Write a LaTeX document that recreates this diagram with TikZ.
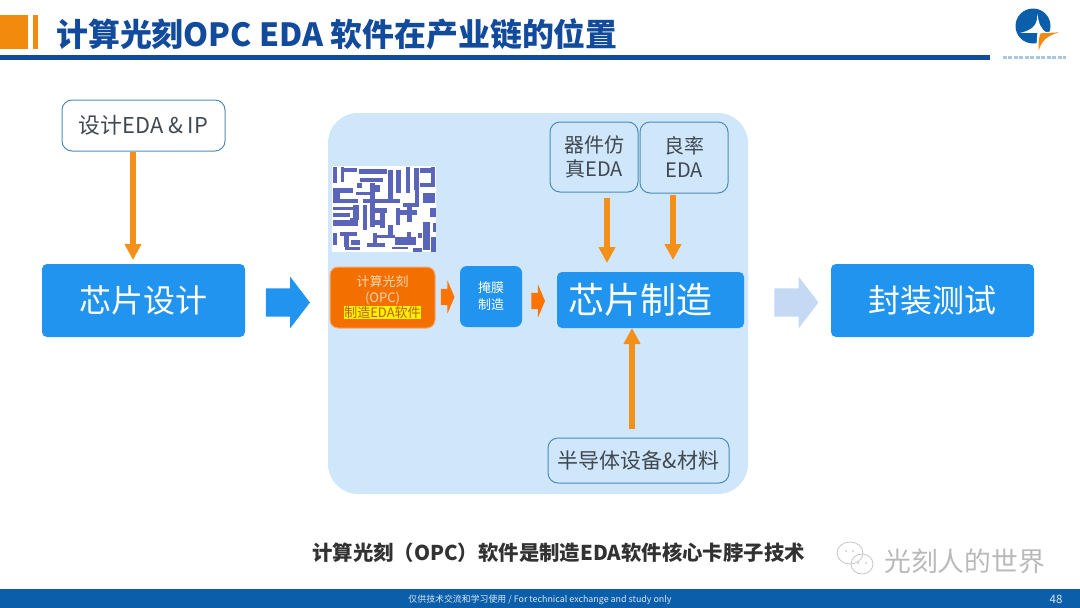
\documentclass[tikz,border=0pt]{standalone}
\usepackage{fontspec}
\setmainfont{Noto Sans CJK SC}
\usetikzlibrary{arrows.meta,shapes.arrows}
\definecolor{navy}{HTML}{124B9B}
\definecolor{tabor}{HTML}{F28A0E}
\definecolor{flowor}{HTML}{F39019}
\definecolor{boxblue}{HTML}{2094EE}
\definecolor{panel}{HTML}{CFE6FB}
\definecolor{edge}{HTML}{4F8CB4}
\definecolor{ink}{HTML}{404850}
\definecolor{mask}{HTML}{5A64B8}
\definecolor{foot}{HTML}{0B5EA9}
\tikzset{
  stage/.style={fill=boxblue,rounded corners=5pt,text=white,inner sep=0pt,align=center},
  tool/.style={draw=edge,line width=1pt,rounded corners=10pt,text=ink,inner sep=0pt,align=center,font=\fontsize{20}{24}\selectfont},
  flow/.style={draw=flowor,line width=5.5pt,-{Triangle[width=16pt,length=16pt]}},
  bigarrow/.style={shape=single arrow,inner xsep=0pt,inner ysep=14pt,minimum width=51pt,minimum height=44pt,single arrow head extend=11.5pt,single arrow tip angle=105,shape border rotate=0},
  smallarrow/.style={shape=single arrow,fill=#1,inner xsep=0pt,inner ysep=8pt,minimum width=33pt,minimum height=13.5pt,single arrow head extend=8.5pt,single arrow tip angle=134},
}
\begin{document}
\begin{tikzpicture}[x=1pt,y=-1pt]
\useasboundingbox (0,0) rectangle (1080,608);
% header
\fill[tabor] (0,15) rectangle (28,49);
\fill[tabor] (33,15) rectangle (38,49);
\fill[navy] (0,55) rectangle (990,60);
\node[anchor=west,inner sep=0pt,text=navy,font=\fontsize{31.9}{36}\selectfont\bfseries] (title) at (56,34) {计算光刻OPC EDA 软件在产业链的位置};
% logo
\fill[foot] (1033,26) circle (17.5);
\begin{scope}[shift={(960,0)},x=.3333pt,y=-.3333pt]
\fill[white] (232,40) .. controls (232,70) and (226,88) .. (180,99) -- (262,99) .. controls (242,88) and (236,70) .. (232,40) -- cycle;
\fill[white] (232,99) -- (300,92) -- (300,160) -- (228,160) -- cycle;
\fill[tabor] (297,97) -- (242,100) .. controls (236,112) and (235,130) .. (236,152) .. controls (244,125) and (258,108) .. (297,97) -- cycle;
\draw[line width=3.6pt,draw=foot!35!white,dash pattern=on 4pt off 1.5pt] (128,172) -- (318,172);
\end{scope}
% panel
\fill[panel,rounded corners=30pt] (328,113) rectangle (748,494);
% mask pattern
\fill[white] (332,166) rectangle (436,252);
\begin{scope}[shift={(320,150)},x=.3333pt,y=-.3333pt]
\foreach \a/\b/\c/\d in {
40/52/52/100, 62/52/72/95, 72/55/110/65, 118/58/200/72, 120/85/190/95, 205/60/220/150, 228/60/242/130,
258/52/270/130, 283/55/296/120, 300/55/345/68, 332/50/345/110, 300/100/345/112, 40/115/100/130, 40/130/60/150,
110/100/125/115, 108/125/150/135, 165/105/180/125, 40/148/115/158, 128/148/240/158, 150/100/165/230, 250/158/290/170,
285/120/298/170, 310/130/345/158, 330/175/348/200, 40/170/100/180, 100/165/118/210, 40/188/90/200, 40/210/115/228,
90/205/112/218, 155/175/200/190, 180/175/195/235, 155/210/195/225, 128/165/140/240, 228/175/240/225, 240/180/290/195,
262/165/275/215, 310/215/330/300, 340/220/348/245, 40/250/50/285, 60/245/112/258, 72/258/88/290, 92/270/120/285, 75/292/120/300,
142/278/195/290, 160/250/172/280, 172/255/225/265, 205/225/218/265, 225/262/288/285, 260/245/272/270, 215/290/265/298, 280/295/305/305, 332/260/348/305, 295/250/305/265}
  {\fill[mask] (\a,\b) rectangle (\c,\d);}
\end{scope}
% design side
\node[tool,minimum width=163pt,minimum height=51pt,font=\fontsize{21.8}{26}\selectfont] (designeda) at (143.5,125.5) {设计EDA \& IP};
\node[stage,minimum width=203pt,minimum height=73pt,font=\fontsize{32}{38}\selectfont] (chipdesign) at (143.5,300.5) {芯片设计};
\node[bigarrow,fill=boxblue] (arrowone) at (282.5,302.5) {};
% fab side
\node[fill={rgb,255:red,243;green,111;blue,0},draw={rgb,255:red,245;green,170;blue,110},line width=1pt,rounded corners=8pt,minimum width=105pt,minimum height=61pt,inner sep=0pt,align=center,text={rgb,255:red,250;green,215;blue,175},font=\fontsize{13}{15.5}\selectfont] (opc) at (382.5,297.5) {计算光刻\\(OPC)\\\setlength{\fboxsep}{0.5pt}\colorbox{yellow}{\textcolor[HTML]{C05A00}{制造EDA软件}}};
\node[smallarrow=orange!90!red] (arrowtwo) at (446,297) {};
\node[stage,rounded corners=7pt,minimum width=62pt,minimum height=61pt,font=\fontsize{13}{17}\selectfont] (maskfab) at (491,296.5) {掩膜\\制造};
\node[smallarrow=orange!90!red] (arrowthree) at (536.5,301) {};
\node[stage,minimum width=187pt,minimum height=56pt,font=\fontsize{36}{42}\selectfont,text width=187pt,align=left] (chipfab) at (650.5,300) {\hspace{11pt}芯片制造};
\node[tool,minimum width=88pt,minimum height=70pt,text width=88pt] (device) at (594,157) {器件仿\\真EDA};
\node[tool,minimum width=88pt,minimum height=71pt,text width=88pt] (yield) at (684,157.5) {良率\\EDA};
\node[tool,minimum width=181pt,minimum height=45pt,font=\fontsize{21}{25}\selectfont] (semi) at (638.5,460.5) {半导体设备\&材料};
\coordinate (enddev) at (607,263);
\coordinate (startdev) at (607,198);
\coordinate (endyield) at (673,260);
\coordinate (startyield) at (673,195);
\coordinate (startsemi) at (632,429);
\coordinate (endsemi) at (632,328);
\coordinate (enddesign) at (133,260);
\draw[flow] (designeda.south -| enddesign) -- (enddesign);
\draw[flow] (startdev) -- (enddev);
\draw[flow] (startyield) -- (endyield);
\draw[flow] (startsemi) -- (endsemi);
% test
\node[bigarrow,fill={rgb,255:red,197;green,217;blue,245}] (arrowfour) at (791,302.5) {};
\node[stage,minimum width=203pt,minimum height=73pt,font=\fontsize{32}{38}\selectfont] (packtest) at (932.5,300.5) {封装测试};
% caption
\node[anchor=west,inner sep=0pt,text={rgb,255:red,50;green,50;blue,50},font=\fontsize{20.4}{24}\selectfont\bfseries] (caption) at (312,553) {计算光刻（OPC）软件是制造EDA软件核心卡脖子技术};
% watermark
\begin{scope}[draw=gray!45,line width=.8pt,fill=white]
\draw (850,553) ellipse (13 and 11);
\draw (862,564) ellipse (11 and 10);
\end{scope}
\fill[gray!45] (846,551) circle (1) (853,551) circle (1) (858,563) circle (1) (866,563) circle (1);
\node[anchor=west,inner sep=0pt,text=gray!55,font=\fontsize{26.8}{30}\selectfont] (mark) at (884,561) {光刻人的世界};
% footer
\fill[foot] (0,589) rectangle (1080,608);
\node[inner sep=0pt,text=white!85!foot,font=\fontsize{8.9}{10}\selectfont] (footnote) at (540,599.5) {仅供技术交流和学习使用 / For technical exchange and study only};
\node[inner sep=0pt,text=white!85!foot,font=\fontsize{11.5}{13}\selectfont] (pageno) at (1056,599.5) {48};
\end{tikzpicture}
\end{document}
